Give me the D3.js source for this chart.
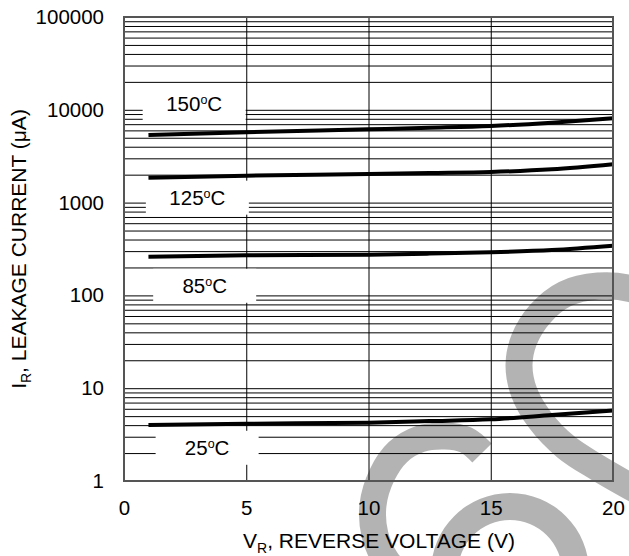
<!DOCTYPE html>
<html>
<head>
<meta charset="utf-8">
<script src="https://cdn.jsdelivr.net/npm/d3@7"></script>
<style>
  html, body { margin: 0; padding: 0; background: #fff; }
  svg { display: block; }
  text { font-family: "Liberation Sans", Arial, Helvetica, sans-serif; fill: #000; }
</style>
</head>
<body>
<svg id="chart" width="629" height="556"></svg>
<script>
// ---------- data ----------
const voltages = [1, 5, 10, 12.5, 15, 17.5, 20];
const temp150 = [5350, 5720, 6160, 6400, 6690, 7260, 8090];
const temp125 = [1855, 1950, 2030, 2080, 2137, 2285, 2590];
const temp85  = [261, 270, 275, 282, 291, 308, 343];
const temp25  = [4.01, 4.14, 4.25, 4.42, 4.62, 5.14, 5.75];
const seriesNames = ["150", "125", "85", "25"];
const xTicks = [0, 5, 10, 15, 20];
const yTicks = [1, 10, 100, 1000, 10000, 100000];
const xGrid = [5, 10, 15];
const xTitle = ["V", "R", ", REVERSE VOLTAGE (V)"];
const yTitle = ["I", "R", ", LEAKAGE CURRENT (\u03BCA)"];

// ---------- layout ----------
const W = 629, H = 556;
const m = { left: 124, right: 613, top: 17, bottom: 481 };
const svg = d3.select("#chart");
const x = d3.scaleLinear().domain([0, 20]).range([m.left, m.right]);
const y = d3.scaleLog().domain([1, 100000]).range([m.bottom, m.top]);

// ---------- watermark (decorative, behind everything) ----------
const wm = svg.append("g").attr("class", "watermark");
const wmColor = "#b3b3b3";
const wmLine = d3.line().curve(d3.curveCatmullRom.alpha(0.5));
const wmUpper = [[665,305],[632,289],[598,286],[565,294],[540,314],[524,340],[519,365],[524,392],[540,420],[566,447],[598,468],[640,492]];
const wmLower = [[482,453],[466,440],[445,436],[420,439],[398,452],[382,475],[373,505],[375,535],[386,560],[405,580]];
wm.append("path").attr("d", wmLine(wmUpper)).attr("fill", "none").attr("stroke", wmColor).attr("stroke-width", 27);
wm.append("path").attr("d", wmLine(wmLower)).attr("fill", "none").attr("stroke", wmColor).attr("stroke-width", 27);
wm.append("path")
  .attr("transform", "translate(510,572)")
  .attr("d", d3.arc()({ innerRadius: 52, outerRadius: 79, startAngle: -Math.PI / 2, endAngle: Math.PI / 2 }))
  .attr("fill", wmColor);

// ---------- gridlines ----------
const minorVals = [];
for (let e = 0; e < 5; e++) for (let k = 1; k <= 9; k++) minorVals.push(k * Math.pow(10, e));
minorVals.push(100000);

const yGridAxis = d3.axisLeft(y).tickValues(minorVals).tickSize(-(m.right - m.left)).tickFormat("");
const yg = svg.append("g").attr("transform", `translate(${m.left},0)`).call(yGridAxis);
yg.select(".domain").remove();
yg.selectAll("line").attr("stroke", "#000").attr("stroke-width", 1);

const xGridAxis = d3.axisBottom(x).tickValues(xGrid).tickSize(-(m.bottom - m.top)).tickFormat("");
const xg = svg.append("g").attr("transform", `translate(0,${m.bottom})`).call(xGridAxis);
xg.select(".domain").remove();
xg.selectAll("line").attr("stroke", "#000").attr("stroke-width", 1);

// ---------- curves ----------
const allSeries = [temp150, temp125, temp85, temp25];
const line = d3.line()
  .x((d, i) => x(voltages[i]))
  .y(d => y(d))
  .curve(d3.curveMonotoneX);
svg.append("g").selectAll("path").data(allSeries).join("path")
  .attr("d", d => line(d))
  .attr("fill", "none")
  .attr("stroke", "#000")
  .attr("stroke-width", 4)
  .attr("stroke-linecap", "butt");

// ---------- series labels with white boxes ----------
const labelAnchors = [
  { name: seriesNames[0], vx: 2.87, vy: 11700 },
  { name: seriesNames[1], vx: 3.0,  vy: 1130 },
  { name: seriesNames[2], vx: 3.3,  vy: 127 },
  { name: seriesNames[3], vx: 3.4,  vy: 2.28 }
];
const lg = svg.append("g");
labelAnchors.forEach(l => {
  const cx = x(l.vx), cy = y(l.vy);
  lg.append("rect")
    .attr("x", cx - 51.5).attr("y", cy - 17)
    .attr("width", 103).attr("height", 34)
    .attr("fill", "#fff");
  const t = lg.append("text")
    .attr("x", cx).attr("y", cy + 7.5)
    .attr("text-anchor", "middle")
    .attr("font-size", 20.5);
  t.append("tspan").text(l.name);
  t.append("tspan").attr("font-size", 12.5).attr("dy", -7).text("o");
  t.append("tspan").attr("dy", 7).text("C");
});

// ---------- frame ----------
svg.append("rect")
  .attr("x", m.left).attr("y", m.top)
  .attr("width", m.right - m.left).attr("height", m.bottom - m.top)
  .attr("fill", "none").attr("stroke", "#555").attr("stroke-width", 2);

// ---------- tick labels ----------
const yAxis = d3.axisLeft(y).tickValues(yTicks).tickSize(0).tickPadding(20).tickFormat(d3.format("d"));
const ya = svg.append("g").attr("transform", `translate(${m.left},0)`).call(yAxis);
ya.select(".domain").remove();
ya.selectAll("text").attr("font-size", 20.5).attr("font-family", "Liberation Sans, Arial, sans-serif").attr("fill", "#000");

const xAxis = d3.axisBottom(x).tickValues(xTicks).tickSize(0).tickPadding(19).tickFormat(d3.format("d"));
const xa = svg.append("g").attr("transform", `translate(0,${m.bottom})`).call(xAxis);
xa.select(".domain").remove();
xa.selectAll("text").attr("font-size", 20.5).attr("font-family", "Liberation Sans, Arial, sans-serif").attr("fill", "#000");

// ---------- axis titles ----------
const xt = svg.append("text")
  .attr("x", 379).attr("y", 548)
  .attr("text-anchor", "middle")
  .attr("font-size", 21);
xt.append("tspan").text(xTitle[0]);
xt.append("tspan").attr("font-size", 14).attr("dy", 5).text(xTitle[1]);
xt.append("tspan").attr("dy", -5).text(xTitle[2]);

const yt = svg.append("text")
  .attr("transform", `translate(26,${(m.top + m.bottom) / 2}) rotate(-90)`)
  .attr("text-anchor", "middle")
  .attr("font-size", 21);
yt.append("tspan").text(yTitle[0]);
yt.append("tspan").attr("font-size", 14).attr("dy", 5).text(yTitle[1]);
yt.append("tspan").attr("dy", -5).text(yTitle[2]);
</script>
</body>
</html>
